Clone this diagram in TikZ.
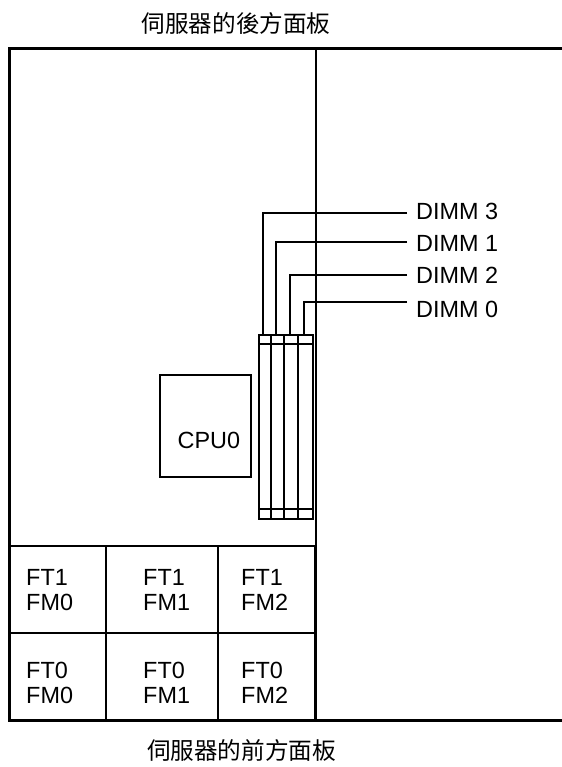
\documentclass[tikz,border=0pt]{standalone}
\usepackage{fontspec}
\setmainfont{Liberation Sans}
\newfontfamily\cjk{Noto Sans CJK TC}
\usetikzlibrary{positioning,calc}

\begin{document}
\begin{tikzpicture}[x=1bp,y=-1bp,font=\fontsize{23.5}{25}\selectfont,
  heavy/.style={line width=3bp},
  thin line/.style={line width=2bp},
  lbl/.style={anchor=west,inner sep=0pt},
  fan/.style={anchor=west,align=left,inner sep=0pt},
  panel/.style={inner sep=0pt,font=\fontsize{23.7}{26}\selectfont\cjk}]
\useasboundingbox (0,0) rectangle (562,767);
% outer frame
\coordinate (tl) at(9.5,48.5);
\coordinate (bl) at(9.5,720);
\coordinate (tr) at(562,48.5);
\coordinate (br) at(562,720);
\coordinate (dtop) at(316,48.5);
\coordinate (dmid) at(316,546);
\coordinate (dbot) at(316,720);
\draw[heavy](tr)--(tl)--(bl)--(br);
\draw[thin line](dtop)--(dmid);
\draw[heavy]($(dmid)+(-0.5,0)$)--($(dbot)+(-0.5,0)$);
% panels
\node[panel](rear)  at(236,23){伺服器的後方面板};
\node[panel](front) at(241.5,750){伺服器的前方面板};
% cpu
\node[draw,thin line,minimum width=91bp,minimum height=102bp,inner sep=0pt](cpu) at(205.5,426){};
\node[lbl](cpulbl) at(177.5,440){CPU0};
% dimm block
\node[draw,thin line,minimum width=12.5bp,minimum height=184bp,inner sep=0pt](s3) at(265.2,426.5){};
\node[draw,thin line,minimum width=13bp,minimum height=184bp,inner sep=0pt](s1) at(277.7,426.5){};
\node[draw,thin line,minimum width=14bp,minimum height=184bp,inner sep=0pt](s2) at(291,426.5){};
\node[draw,thin line,minimum width=15bp,minimum height=184bp,inner sep=0pt](s0) at(305.5,426.5){};
\coordinate (hta) at(259,344);
\coordinate (htb) at(313,344);
\coordinate (hba) at(259,509);
\coordinate (hbb) at(313,509);
\draw[thin line](hta)--(htb);
\draw[thin line](hba)--(hbb);
% dimm labels
\node[lbl](d3) at(416,211){DIMM 3};
\node[lbl](d1) at(416,243){DIMM 1};
\node[lbl](d2) at(416,275.5){DIMM 2};
\node[lbl](d0) at(416,309){DIMM 0};
\coordinate (j3) at(407,212.5);
\coordinate (j1) at(407,241.5);
\coordinate (j2) at(407,274.5);
\coordinate (j0) at(407,302);
\coordinate (l3) at(263,334.5);
\coordinate (l1) at(276,334.5);
\coordinate (l2) at(290,334.5);
\coordinate (l0) at(304,334.5);
\draw[thin line](j3)-|(l3);
\draw[thin line](j1)-|(l1);
\draw[thin line](j2)-|(l2);
\draw[thin line](j0)-|(l0);
% fan grid
\coordinate (ga) at(9.5,546);
\coordinate (gb) at(316,546);
\coordinate (gc) at(9.5,632.5);
\coordinate (gd) at(316,632.5);
\coordinate (ge) at(106,546);
\coordinate (gf) at(106,720);
\coordinate (gg) at(218,546);
\coordinate (gh) at(218,720);
\draw[thin line](ga)--(gb);
\draw[thin line](gc)--(gd);
\draw[thin line](ge)--(gf);
\draw[thin line](gg)--(gh);
\node[fan](f10) at(26,589.8){FT1\\FM0};
\node[fan](f11) at(143,589.8){FT1\\FM1};
\node[fan](f12) at(241,589.8){FT1\\FM2};
\node[fan](f00) at(26,682.5){FT0\\FM0};
\node[fan](f01) at(143,682.5){FT0\\FM1};
\node[fan](f02) at(241,682.5){FT0\\FM2};
\end{tikzpicture}
\end{document}
